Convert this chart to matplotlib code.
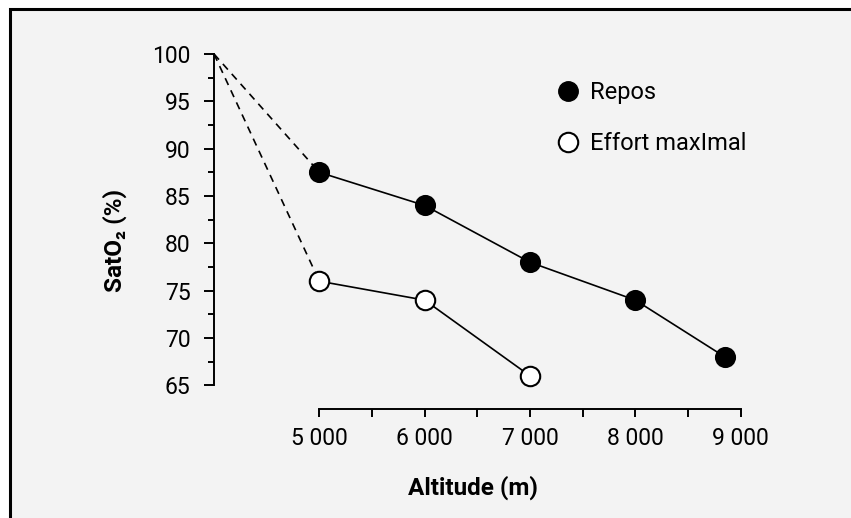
import matplotlib
matplotlib.use('Agg')
import matplotlib.pyplot as plt
from matplotlib.patches import Rectangle
from matplotlib.lines import Line2D
from matplotlib.ticker import FuncFormatter

# ---- data ----
altitude_repos = [5000, 6000, 7000, 8000, 8850]
sat_repos = [87.5, 84, 78, 74, 68]
altitude_effort = [5000, 6000, 7000]
sat_effort = [76, 74, 66]
sea_level_sat = 100
label_repos = "Repos"
label_effort = "Effort maxImal"
xlabel = "Altitude (m)"
ylabel = "SatO\u2082 (%)"
x_ticks = [5000, 6000, 7000, 8000, 9000]
x_minor = [5500, 6500, 7500, 8500]
y_ticks = [65, 70, 75, 80, 85, 90, 95, 100]
y_minor = [67.5, 72.5, 77.5, 82.5, 87.5, 92.5, 97.5]

plt.rcParams['font.family'] = ['Roboto', 'DejaVu Sans']
W, H = 851, 518
fig = plt.figure(figsize=(W / 100, H / 100), dpi=100, facecolor='white')

bg = '#f3f3f3'
frame = Rectangle((10 / W, -0.1), 1.2, 1.1 - 9.5 / H,
                  transform=fig.transFigure, facecolor=bg,
                  edgecolor='black', linewidth=2.2, zorder=-10)
fig.add_artist(frame)

ax = fig.add_axes([214 / W, 109 / H, 526.7 / W, 355 / H])
ax.set_zorder(1)
ax.patch.set_visible(False)
ax.set_xlim(4000, 9000)
ax.set_ylim(62.5, 100)

lw = 1.2
x0 = ax.get_xlim()[0]
# dashed lines from sea level reference
ax.plot([x0, altitude_repos[0]], [sea_level_sat, sat_repos[0]], ls=(0, (4.5, 3.5)),
        color='black', lw=lw, clip_on=False, zorder=2)
ax.plot([x0, altitude_effort[0]], [sea_level_sat, sat_effort[0]], ls=(0, (4.5, 3.5)),
        color='black', lw=lw, clip_on=False, zorder=2)

ax.plot(altitude_repos, sat_repos, color='black', lw=lw, marker='o', ms=14,
        mfc='black', mec='black', mew=1.2, clip_on=False, zorder=3)
ax.plot(altitude_effort, sat_effort, color='black', lw=lw, marker='o', ms=14,
        mfc='white', mec='black', mew=1.5, clip_on=False, zorder=3)

for s in ['top', 'right']:
    ax.spines[s].set_visible(False)
ax.spines['left'].set_bounds(65, 100)
ax.spines['bottom'].set_bounds(5000, 9000)
for s in ['left', 'bottom']:
    ax.spines[s].set_linewidth(1.4)

ax.set_xticks(x_ticks)
ax.set_xticks(x_minor, minor=True)
ax.set_yticks(y_ticks)
ax.set_yticks(y_minor, minor=True)
ax.xaxis.set_major_formatter(FuncFormatter(lambda v, p: f"{int(v):,}".replace(',', ' ')))

ax.tick_params(axis='x', which='both', direction='out', length=6, width=1.4,
               pad=7, labelsize=16.5)
ax.tick_params(axis='y', which='major', direction='out', length=7, width=1.4,
               pad=10, labelsize=16.5)
ax.tick_params(axis='y', which='minor', direction='out', length=4, width=1.4)

ax.set_xlabel(xlabel, fontsize=17.5, fontweight='bold', va='center')
ax.xaxis.set_label_coords(0.492, -0.2225)
ax.set_ylabel(ylabel, fontsize=17.5, fontweight='bold', va='center')
ax.yaxis.set_label_coords(-0.188, 0.476)

handles = [Line2D([], [], marker='o', ls='none', ms=14, mfc='black', mec='black'),
           Line2D([], [], marker='o', ls='none', ms=14, mfc='white', mec='black', mew=1.5)]
ax.legend(handles, [label_repos, label_effort], loc='upper left',
          bbox_to_anchor=(556 / W, 1 - 81 / H), bbox_transform=fig.transFigure,
          frameon=False, fontsize=17, handlelength=1.0, handletextpad=0.45,
          labelspacing=1.2, borderpad=0, borderaxespad=0)

fig.savefig('out.png', dpi=100, facecolor='white')
